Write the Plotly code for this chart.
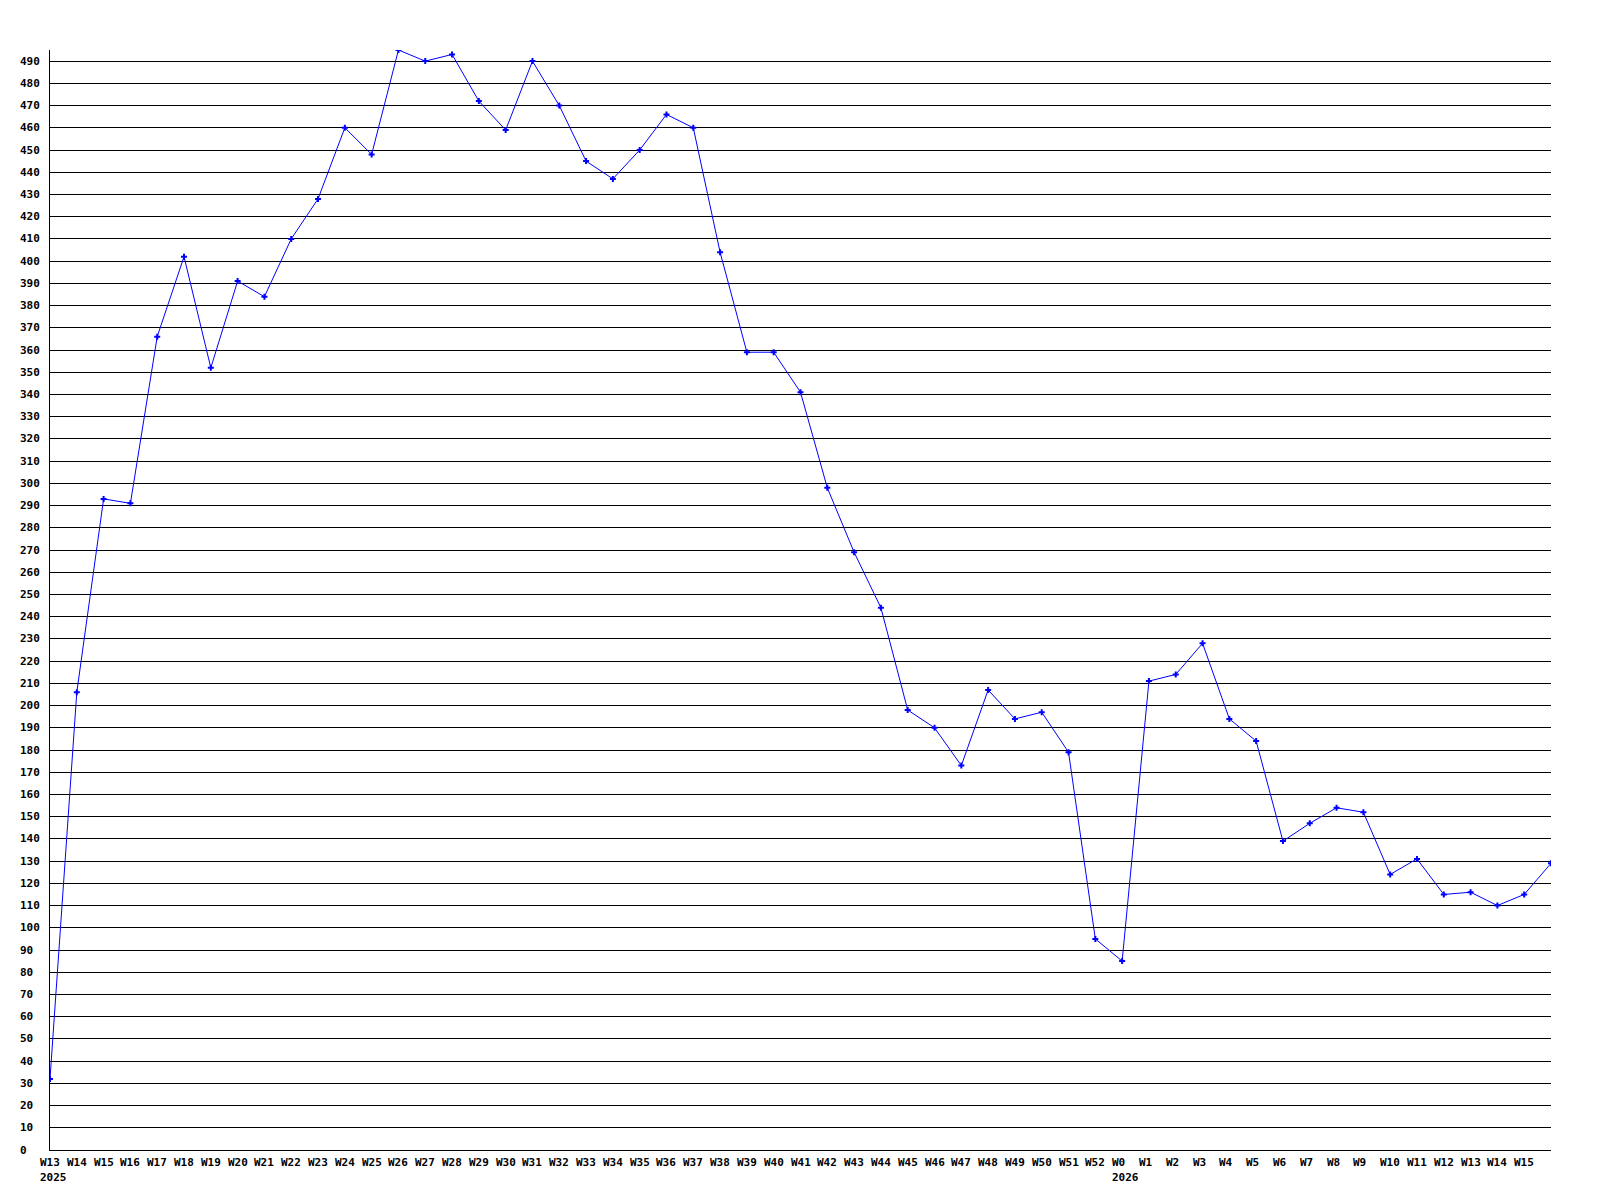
import plotly.graph_objects as go

# Weekly counts, W13 of 2025 through the start of W16 of 2026
weeks_2025 = [f"W{n}" for n in range(13, 53)]
weeks_2026 = ["W0"] + [f"W{n}" for n in range(1, 17)]

values_2025 = [
    32, 206, 293, 291, 366, 402, 352, 391, 384, 410,
    428, 460, 448, 495, 490, 493, 472, 459, 490, 470,
    445, 437, 450, 466, 460, 404, 359, 359, 341, 298,
    269, 244, 198, 190, 173, 207, 194, 197, 179, 95,
]
values_2026 = [
    85, 211, 214, 228, 194, 184, 139, 147, 154, 152,
    124, 131, 115, 116, 110, 115, 129,
]

y_ticks = list(range(0, 500, 10))
year_marks = {"2025-W13": "2025", "2026-W0": "2026"}

LINE_BLUE = "#0000FF"
FONT = dict(family="DejaVu Sans Mono", size=11, color="black", weight="bold")

keys = [f"2025-{w}" for w in weeks_2025] + [f"2026-{w}" for w in weeks_2026]
labels = weeks_2025 + weeks_2026
values = values_2025 + values_2026

fig = go.Figure()
fig.add_trace(
    go.Scatter(
        x=keys,
        y=values,
        mode="lines+markers",
        line=dict(color=LINE_BLUE, width=1),
        marker=dict(symbol="cross", size=5, color=LINE_BLUE),
        showlegend=False,
        cliponaxis=True,
    )
)

annotations = []
# y tick labels, left aligned like the original
for v in y_ticks:
    annotations.append(dict(
        x=0, xref="paper", y=v, yref="y", text=str(v), showarrow=False,
        xanchor="left", yanchor="middle", xshift=-32, font=FONT,
    ))
# x tick labels (last partial week is not labelled)
for k, lab in zip(keys[:-1], labels[:-1]):
    annotations.append(dict(
        x=k, xref="x", y=0, yref="paper", text=lab, showarrow=False,
        xanchor="left", yanchor="middle", xshift=-12, yshift=-12, font=FONT,
    ))
for k, yr in year_marks.items():
    annotations.append(dict(
        x=k, xref="x", y=0, yref="paper", text=yr, showarrow=False,
        xanchor="left", yanchor="middle", xshift=-12, yshift=-27, font=FONT,
    ))

# page body adds an 8px margin, so the figure is a bit smaller than the window
fig.update_layout(
    width=1584,
    height=1184,
    margin=dict(l=42, r=41, t=42, b=42),
    paper_bgcolor="white",
    plot_bgcolor="white",
    annotations=annotations,
    xaxis=dict(
        type="category",
        range=[0, len(keys) - 1],
        showgrid=False,
        showticklabels=False,
        ticks="",
        zeroline=False,
        showline=True,
        linecolor="black",
        linewidth=1,
    ),
    yaxis=dict(
        range=[0, 495],
        tickvals=y_ticks,
        showticklabels=False,
        ticks="",
        showgrid=True,
        gridcolor="black",
        gridwidth=1,
        zeroline=False,
        showline=True,
        linecolor="black",
        linewidth=1,
    ),
)

fig.write_html("out.html")
